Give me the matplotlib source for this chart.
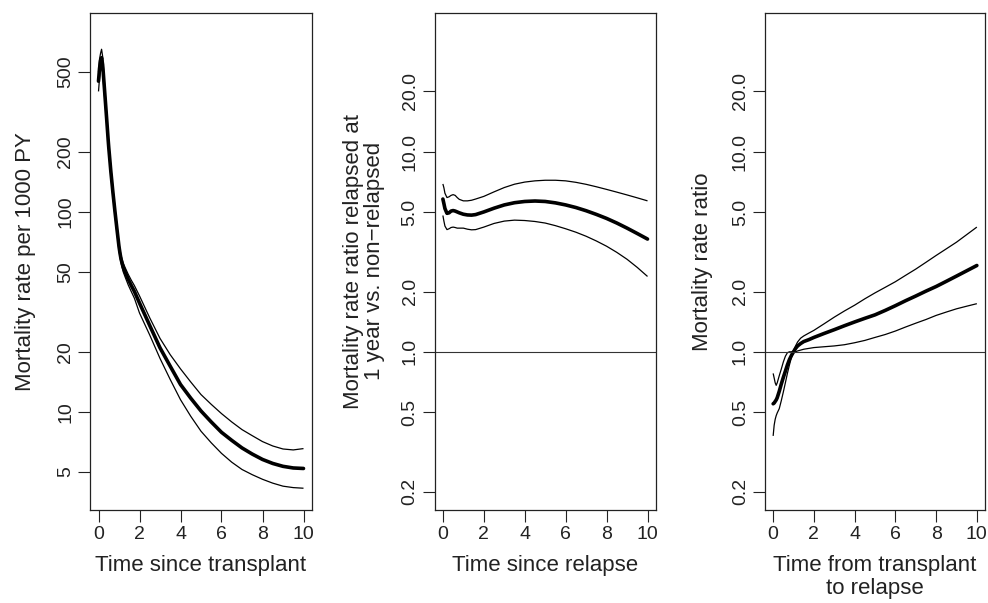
import matplotlib
matplotlib.use("Agg")
import matplotlib.pyplot as plt
from matplotlib.ticker import NullLocator

plt.rcParams['font.family'] = ['Liberation Sans', 'DejaVu Sans']

# ---------------- data ----------------
# Panel 1: mortality rate per 1000 PY vs time since transplant
t1 = [0, 0.05, 0.1, 0.15, 0.2, 0.23, 0.3, 0.4, 0.47, 0.5, 0.6, 0.7, 0.8, 0.9, 1.0,
      1.05, 1.1, 1.2, 1.3, 1.45, 1.6, 1.75, 2, 2.5, 3, 3.5, 4, 4.5, 5, 5.5, 6, 6.5,
      7, 7.5, 8, 8.5, 9, 9.5, 10]
est1 = [450, 520, 570, 590, 545, 500, 400, 290, 230, 210, 160, 126, 101, 82, 67,
        62, 58, 53, 50, 46, 42.8, 40, 35, 27, 20.9, 16.9, 13.7, 11.7, 10.1, 8.9,
        7.9, 7.2, 6.6, 6.15, 5.78, 5.52, 5.34, 5.24, 5.21]
up1 = [500, 580, 620, 650, 600, 550, 428, 308, 243, 221, 168, 132, 105.5, 85.5,
       69.8, 64.6, 60.5, 55.6, 52.6, 48.7, 45.5, 42.8, 38, 29.5, 23.3, 19.3, 16.4,
       14.1, 12.2, 10.9, 9.8, 8.9, 8.15, 7.6, 7.1, 6.75, 6.52, 6.45, 6.55]
lo1 = [400, 465, 520, 545, 500, 455, 372, 272, 217, 199, 152, 120, 96.5, 78.5,
       64.2, 59.3, 55.4, 50.3, 47.2, 43.1, 39.9, 37, 31.2, 24.2, 18.5, 14.5, 11.5,
       9.5, 8.0, 7.0, 6.2, 5.6, 5.15, 4.85, 4.6, 4.4, 4.25, 4.18, 4.15]

# Panel 2: mortality rate ratio relapsed (1 year) vs non-relapsed
t2 = [0, 0.05, 0.1, 0.2, 0.3, 0.4, 0.5, 0.6, 0.7, 0.8, 1.0, 1.2, 1.4, 1.6, 2, 2.5,
      3, 3.5, 4, 4.5, 5, 5.5, 6, 6.5, 7, 7.5, 8, 8.5, 9, 9.5, 10]
est2 = [5.8, 5.5, 5.2, 4.92, 4.95, 5.05, 5.08, 5.05, 5.0, 4.95, 4.87, 4.83, 4.82,
        4.85, 5.0, 5.22, 5.42, 5.56, 5.64, 5.67, 5.64, 5.55, 5.42, 5.26, 5.07,
        4.86, 4.64, 4.4, 4.15, 3.9, 3.66]
up2 = [6.9, 6.6, 6.2, 5.9, 5.95, 6.05, 6.1, 6.05, 5.9, 5.78, 5.68, 5.68, 5.72,
       5.8, 5.98, 6.3, 6.62, 6.88, 7.05, 7.15, 7.2, 7.2, 7.15, 7.03, 6.87, 6.68,
       6.48, 6.28, 6.08, 5.88, 5.68]
lo2 = [4.8, 4.5, 4.25, 4.08, 4.12, 4.18, 4.2, 4.18, 4.15, 4.15, 4.15, 4.1, 4.07,
       4.08, 4.2, 4.38, 4.5, 4.55, 4.53, 4.48, 4.4, 4.27, 4.12, 3.96, 3.78, 3.58,
       3.37, 3.14, 2.9, 2.64, 2.38]

# Panel 3: mortality rate ratio vs time from transplant to relapse
t3 = [0, 0.05, 0.1, 0.15, 0.2, 0.3, 0.4, 0.5, 0.6, 0.7, 0.8, 0.9, 1.0, 1.1, 1.2,
      1.35, 1.5, 1.75, 2, 2.5, 3, 3.5, 4, 4.5, 5, 5.5, 6, 6.5, 7, 7.5, 8, 8.5, 9,
      9.5, 10]
est3 = [0.55, 0.555, 0.565, 0.575, 0.59, 0.635, 0.69, 0.745, 0.80, 0.86, 0.915,
        0.96, 1.0, 1.04, 1.07, 1.1, 1.125, 1.15, 1.18, 1.235, 1.29, 1.35, 1.41,
        1.47, 1.53, 1.61, 1.70, 1.80, 1.90, 2.01, 2.12, 2.25, 2.39, 2.54, 2.70]
up3 = [0.78, 0.74, 0.70, 0.68, 0.70, 0.76, 0.82, 0.89, 0.95, 0.99, 1.0, 1.0, 1.01,
       1.07, 1.12, 1.17, 1.2, 1.24, 1.28, 1.38, 1.49, 1.6, 1.71, 1.84, 1.97, 2.1,
       2.24, 2.41, 2.59, 2.8, 3.03, 3.27, 3.53, 3.85, 4.2]
lo3 = [0.38, 0.43, 0.46, 0.48, 0.495, 0.52, 0.57, 0.63, 0.70, 0.78, 0.86, 0.94,
       0.99, 1.0, 1.01, 1.02, 1.03, 1.04, 1.05, 1.06, 1.07, 1.085, 1.11, 1.14, 1.18,
       1.22, 1.27, 1.33, 1.39, 1.45, 1.52, 1.58, 1.64, 1.69, 1.74]

xticks = [0, 2, 4, 6, 8, 10]
yticks1 = [5, 10, 20, 50, 100, 200, 500]
yticklabels1 = ["5", "10", "20", "50", "100", "200", "500"]
yticks2 = [0.2, 0.5, 1.0, 2.0, 5.0, 10.0, 20.0]
yticklabels2 = ["0.2", "0.5", "1.0", "2.0", "5.0", "10.0", "20.0"]

xlabels = ["Time since transplant", "Time since relapse", "Time from transplant\nto relapse"]
ylabels = ["Mortality rate per 1000 PY",
           "Mortality rate ratio relapsed at\n1 year vs. non\u2212relapsed",
           "Mortality rate ratio"]

# ---------------- figure ----------------
W, H = 988, 603
fig = plt.figure(figsize=(W / 100, H / 100), dpi=100)

boxes = [(90.3, 311.7), (434.7, 655.7), (765.0, 985.0)]
top_px, bot_px = 12.7, 510.0
ylims = [(3.23, 990.0), (0.162, 49.5), (0.162, 49.5)]
ylab_x = [25, 364, 702.5]

TICK_FS = 14
LAB_FS = 16
spine_col = "#222222"
thin, thick = 0.9, 2.6

data = [(t1, est1, up1, lo1), (t2, est2, up2, lo2), (t3, est3, up3, lo3)]

for i, ((l, r), (tt, e, u, lo)) in enumerate(zip(boxes, data)):
    ax = fig.add_axes([l / W, 1 - bot_px / H, (r - l) / W, (bot_px - top_px) / H])
    ax.plot(tt, u, color="black", lw=thin, solid_capstyle="butt")
    ax.plot(tt, lo, color="black", lw=thin, solid_capstyle="butt")
    ax.plot(tt, e, color="black", lw=thick, solid_capstyle="round", solid_joinstyle="round")
    if i > 0:
        ax.axhline(1.0, color="#333333", lw=0.8)
    ax.set_yscale("log")
    ax.set_xlim(-0.4, 10.4)
    ax.set_ylim(*ylims[i])
    ax.set_xticks(xticks)
    ax.set_xticklabels([str(x) for x in xticks])
    if i == 0:
        ax.set_yticks(yticks1)
        ax.set_yticklabels(yticklabels1)
    else:
        ax.set_yticks(yticks2)
        ax.set_yticklabels(yticklabels2)
    ax.yaxis.set_minor_locator(NullLocator())
    ax.tick_params(axis="both", direction="out", length=8.6, width=0.8,
                   color=spine_col, labelsize=TICK_FS, labelcolor="#222222")
    ax.tick_params(axis="x", pad=3)
    ax.tick_params(axis="y", pad=3)
    for lab in ax.get_yticklabels():
        lab.set_rotation(90)
        lab.set_va("center")
    for sp in ax.spines.values():
        sp.set_color(spine_col)
        sp.set_linewidth(0.9)

    cx = (l + r) / 2
    fig.text(cx / W, 1 - 554.5 / H, xlabels[i], ha="center", va="top",
             fontsize=LAB_FS, color="#222222", linespacing=1.15)
    fig.text(ylab_x[i] / W, 1 - ((top_px + bot_px) / 2) / H, ylabels[i], rotation=90,
             ha="center", va="center", fontsize=LAB_FS, color="#222222",
             linespacing=1.05)

fig.savefig("out.png", dpi=100)
